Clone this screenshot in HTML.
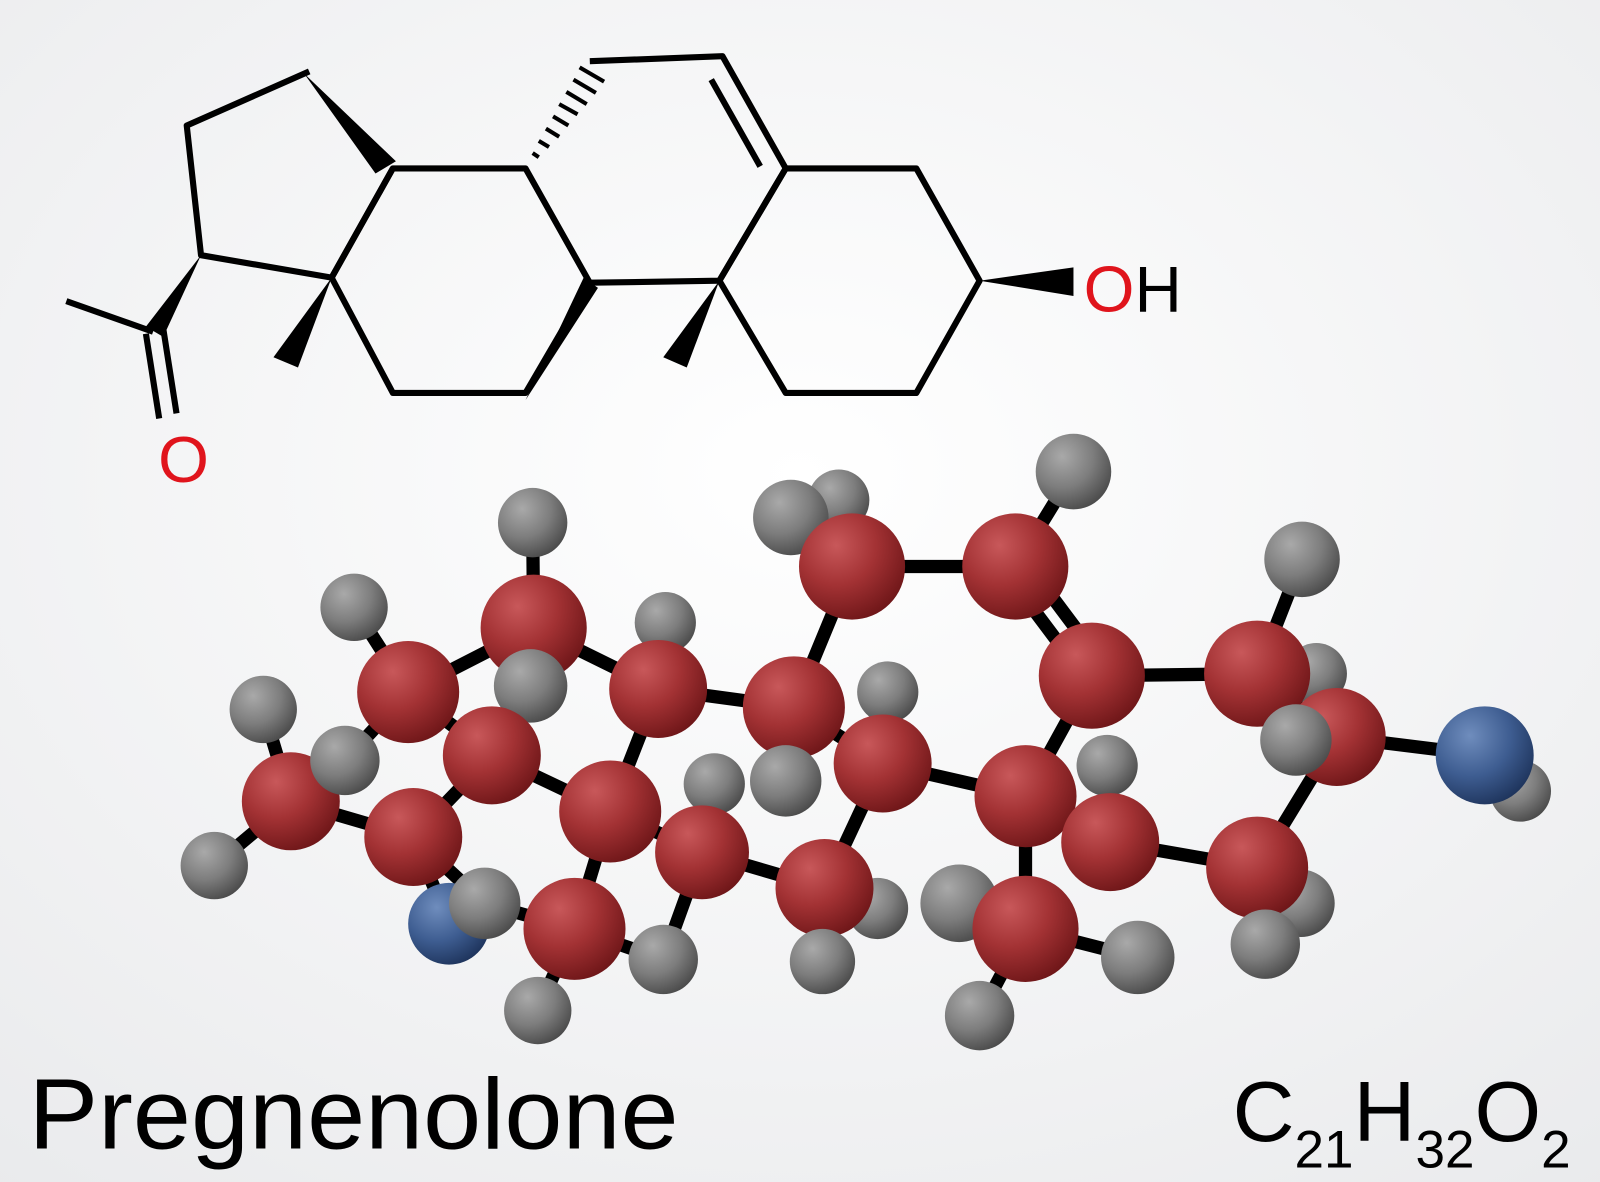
<!DOCTYPE html>
<html><head><meta charset="utf-8"><style>
html,body{margin:0;padding:0;width:1600px;height:1182px;overflow:hidden;background:#f4f5f6}
</style></head><body>
<svg width="1600" height="1182" viewBox="0 0 1568 1158" preserveAspectRatio="none" xmlns="http://www.w3.org/2000/svg">
<defs>
<radialGradient id="bg" cx="0.5" cy="0.4" r="0.8"><stop offset="0" stop-color="#ffffff"/><stop offset="1" stop-color="#e9eaec"/></radialGradient>
<radialGradient id="red" cx="0.35" cy="0.3" r="0.75"><stop offset="0" stop-color="#c8585a"/><stop offset="0.5" stop-color="#a33234"/><stop offset="1" stop-color="#6e1618"/></radialGradient>
<radialGradient id="gry" cx="0.35" cy="0.3" r="0.75"><stop offset="0" stop-color="#a9a9a9"/><stop offset="0.55" stop-color="#7d7d7d"/><stop offset="1" stop-color="#4a4a4a"/></radialGradient>
<radialGradient id="blu" cx="0.35" cy="0.3" r="0.75"><stop offset="0" stop-color="#6f8dbd"/><stop offset="0.55" stop-color="#3e5d91"/><stop offset="1" stop-color="#1e345c"/></radialGradient>
</defs>
<rect width="1568" height="1158" fill="url(#bg)"/>
<g stroke="#000" stroke-width="6" fill="none" stroke-linejoin="round">
<polyline points="303,70 183,123 197,250 325,272 385,165"/>
<polygon points="385,165 515,165 578,277 515,385 385,385 325,272"/>
<polyline points="578,60 708,55 770,165 705,275 578,277"/>
<polygon points="770,165 898,165 960,275 898,385 770,385 705,275"/>
<line x1="697" y1="78" x2="745" y2="163"/>
<line x1="150" y1="325" x2="65" y2="295"/>
<line x1="143" y1="327" x2="156" y2="410"/>
<line x1="160" y1="322" x2="173" y2="405"/>
</g>
<g fill="#000">
<polygon points="298,72 388,158 368,170"/>
<polygon points="515,392 572,272 586,282"/>
<polygon points="197,250 143,320 160,330"/>
<polygon points="325,272 268,350 292,360"/>
<polygon points="705,275 650,350 673,360"/>
<polygon points="960,275 1052,262 1052,290"/>
</g>
<g stroke="#000" stroke-width="4">
<line x1="522" y1="150" x2="528" y2="154"/><line x1="528" y1="138" x2="538" y2="144"/>
<line x1="535" y1="126" x2="548" y2="134"/><line x1="542" y1="114" x2="557" y2="123"/>
<line x1="548" y1="102" x2="566" y2="112"/><line x1="555" y1="90" x2="575" y2="102"/>
<line x1="562" y1="78" x2="584" y2="91"/><line x1="568" y1="66" x2="592" y2="80"/>
</g>
<text x="1062" y="305" font-family="Liberation Sans, sans-serif" font-size="64" fill="#e0141c">O</text>
<text x="1112" y="305" font-family="Liberation Sans, sans-serif" font-size="64" fill="#000">H</text>
<text x="155" y="472" font-family="Liberation Sans, sans-serif" font-size="64" fill="#e0141c">O</text>

<g stroke="#000" stroke-width="13" stroke-linecap="round">
<line x1="523" y1="615" x2="522" y2="512"/>
<line x1="523" y1="615" x2="400" y2="678"/>
<line x1="523" y1="615" x2="645" y2="675"/>
<line x1="523" y1="615" x2="520" y2="672"/>
<line x1="400" y1="678" x2="347" y2="595"/>
<line x1="400" y1="678" x2="482" y2="740"/>
<line x1="400" y1="678" x2="338" y2="745"/>
<line x1="482" y1="740" x2="405" y2="820"/>
<line x1="482" y1="740" x2="598" y2="795"/>
<line x1="285" y1="785" x2="258" y2="695"/>
<line x1="285" y1="785" x2="210" y2="848"/>
<line x1="285" y1="785" x2="405" y2="820"/>
<line x1="405" y1="820" x2="440" y2="905"/>
<line x1="405" y1="820" x2="475" y2="885"/>
<line x1="598" y1="795" x2="563" y2="910"/>
<line x1="598" y1="795" x2="645" y2="675"/>
<line x1="598" y1="795" x2="688" y2="835"/>
<line x1="645" y1="675" x2="652" y2="610"/>
<line x1="645" y1="675" x2="778" y2="693"/>
<line x1="563" y1="910" x2="475" y2="885"/>
<line x1="563" y1="910" x2="527" y2="990"/>
<line x1="563" y1="910" x2="650" y2="940"/>
<line x1="688" y1="835" x2="700" y2="768"/>
<line x1="688" y1="835" x2="808" y2="870"/>
<line x1="688" y1="835" x2="650" y2="940"/>
<line x1="778" y1="693" x2="835" y2="555"/>
<line x1="778" y1="693" x2="865" y2="748"/>
<line x1="778" y1="693" x2="770" y2="765"/>
<line x1="835" y1="555" x2="775" y2="507"/>
<line x1="835" y1="555" x2="995" y2="555"/>
<line x1="995" y1="555" x2="1052" y2="462"/>
<line x1="985" y1="560" x2="1060" y2="660"/>
<line x1="1005" y1="550" x2="1080" y2="650"/>
<line x1="1070" y1="662" x2="1232" y2="660"/>
<line x1="1070" y1="662" x2="1005" y2="780"/>
<line x1="1232" y1="660" x2="1276" y2="548"/>
<line x1="1232" y1="660" x2="1310" y2="722"/>
<line x1="1310" y1="722" x2="1455" y2="740"/>
<line x1="1310" y1="722" x2="1232" y2="850"/>
<line x1="865" y1="748" x2="808" y2="870"/>
<line x1="865" y1="748" x2="1005" y2="780"/>
<line x1="865" y1="748" x2="870" y2="678"/>
<line x1="1005" y1="780" x2="1088" y2="825"/>
<line x1="1005" y1="780" x2="1005" y2="910"/>
<line x1="1088" y1="825" x2="1232" y2="850"/>
<line x1="1088" y1="825" x2="1085" y2="750"/>
<line x1="1232" y1="850" x2="1240" y2="925"/>
<line x1="808" y1="870" x2="806" y2="942"/>
<line x1="1005" y1="910" x2="960" y2="995"/>
<line x1="1005" y1="910" x2="1115" y2="938"/>
<line x1="1005" y1="910" x2="940" y2="885"/>
<line x1="1455" y1="740" x2="1490" y2="775"/>
</g>
<g>
<circle cx="522" cy="512" r="34" fill="url(#gry)"/>
<circle cx="347" cy="595" r="33" fill="url(#gry)"/>
<circle cx="258" cy="695" r="33" fill="url(#gry)"/>
<circle cx="210" cy="848" r="33" fill="url(#gry)"/>
<circle cx="652" cy="610" r="30" fill="url(#gry)"/>
<circle cx="822" cy="490" r="30" fill="url(#gry)"/>
<circle cx="1052" cy="462" r="37" fill="url(#gry)"/>
<circle cx="1276" cy="548" r="37" fill="url(#gry)"/>
<circle cx="1290" cy="660" r="30" fill="url(#gry)"/>
<circle cx="1490" cy="775" r="30" fill="url(#gry)"/>
<circle cx="870" cy="678" r="30" fill="url(#gry)"/>
<circle cx="1085" cy="750" r="30" fill="url(#gry)"/>
<circle cx="700" cy="768" r="30" fill="url(#gry)"/>
<circle cx="1275" cy="885" r="33" fill="url(#gry)"/>
<circle cx="860" cy="890" r="30" fill="url(#gry)"/>
<circle cx="440" cy="905" r="40" fill="url(#blu)"/>
<circle cx="775" cy="507" r="37" fill="url(#gry)"/>
<circle cx="995" cy="555" r="52" fill="url(#red)"/>
<circle cx="835" cy="555" r="52" fill="url(#red)"/>
<circle cx="523" cy="615" r="52" fill="url(#red)"/>
<circle cx="400" cy="678" r="50" fill="url(#red)"/>
<circle cx="645" cy="675" r="48" fill="url(#red)"/>
<circle cx="520" cy="672" r="36" fill="url(#gry)"/>
<circle cx="1070" cy="662" r="52" fill="url(#red)"/>
<circle cx="1232" cy="660" r="52" fill="url(#red)"/>
<circle cx="1310" cy="722" r="48" fill="url(#red)"/>
<circle cx="1270" cy="725" r="35" fill="url(#gry)"/>
<circle cx="1455" cy="740" r="48" fill="url(#blu)"/>
<circle cx="778" cy="693" r="50" fill="url(#red)"/>
<circle cx="285" cy="785" r="48" fill="url(#red)"/>
<circle cx="338" cy="745" r="34" fill="url(#gry)"/>
<circle cx="482" cy="740" r="48" fill="url(#red)"/>
<circle cx="770" cy="765" r="35" fill="url(#gry)"/>
<circle cx="865" cy="748" r="48" fill="url(#red)"/>
<circle cx="598" cy="795" r="50" fill="url(#red)"/>
<circle cx="1005" cy="780" r="50" fill="url(#red)"/>
<circle cx="405" cy="820" r="48" fill="url(#red)"/>
<circle cx="688" cy="835" r="46" fill="url(#red)"/>
<circle cx="1088" cy="825" r="48" fill="url(#red)"/>
<circle cx="1232" cy="850" r="50" fill="url(#red)"/>
<circle cx="808" cy="870" r="48" fill="url(#red)"/>
<circle cx="475" cy="885" r="35" fill="url(#gry)"/>
<circle cx="650" cy="940" r="34" fill="url(#gry)"/>
<circle cx="563" cy="910" r="50" fill="url(#red)"/>
<circle cx="940" cy="885" r="38" fill="url(#gry)"/>
<circle cx="1005" cy="910" r="52" fill="url(#red)"/>
<circle cx="806" cy="942" r="32" fill="url(#gry)"/>
<circle cx="1115" cy="938" r="36" fill="url(#gry)"/>
<circle cx="1240" cy="925" r="34" fill="url(#gry)"/>
<circle cx="527" cy="990" r="33" fill="url(#gry)"/>
<circle cx="960" cy="995" r="34" fill="url(#gry)"/>
</g>
<text x="28" y="1125" font-family="Liberation Sans, sans-serif" font-size="98" fill="#000" textLength="637" lengthAdjust="spacingAndGlyphs">Pregnenolone</text>
<text x="1208" y="1118" font-family="Liberation Sans, sans-serif" font-size="84" fill="#000">C<tspan font-size="52" dy="26">21</tspan><tspan dy="-26">H</tspan><tspan font-size="52" dy="26">32</tspan><tspan dy="-26">O</tspan><tspan font-size="52" dy="26">2</tspan></text>
</svg>
</body></html>
